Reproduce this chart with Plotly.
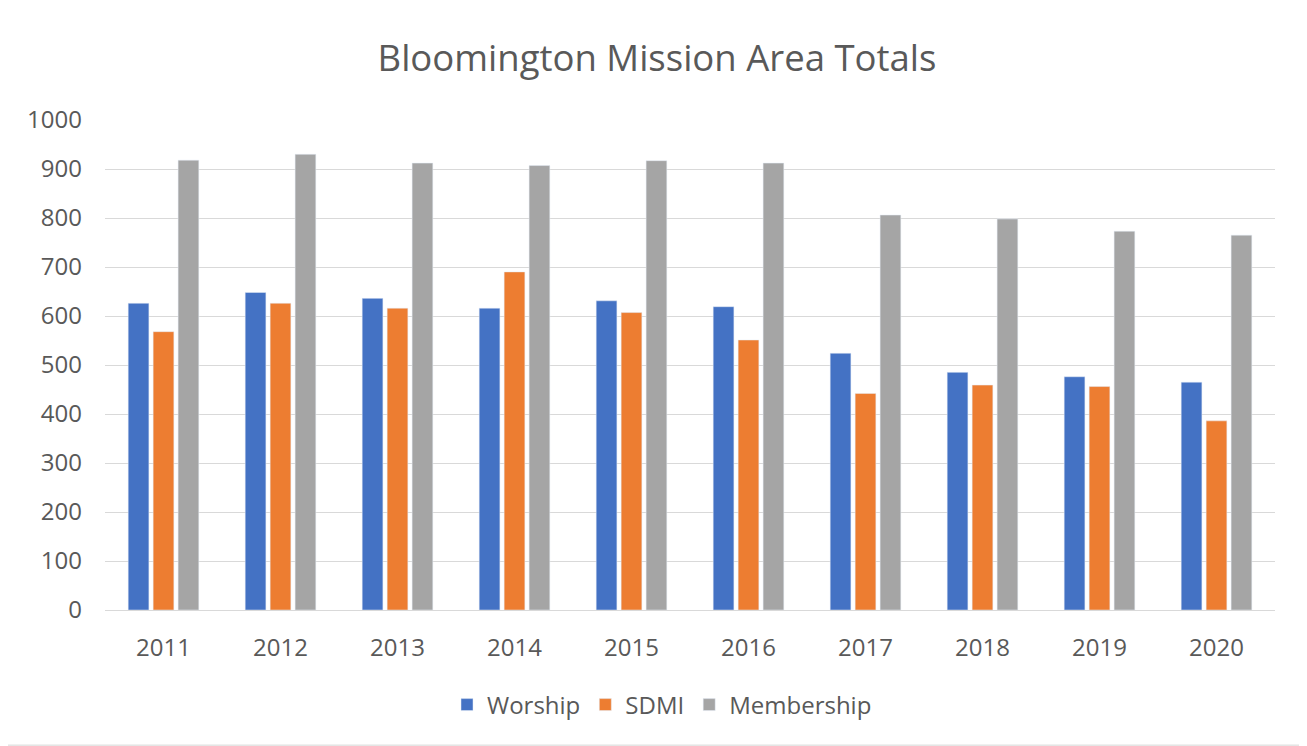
import plotly.graph_objects as go

years = ["2011", "2012", "2013", "2014", "2015", "2016", "2017", "2018", "2019", "2020"]
worship = [626, 648, 636, 616, 631, 619, 524, 485, 476, 465]
sdmi = [568, 626, 616, 690, 607, 551, 442, 459, 456, 386]
membership = [918, 930, 912, 907, 917, 912, 806, 798, 773, 765]
y_ticks = [0, 100, 200, 300, 400, 500, 600, 700, 800, 900, 1000]

# page body has an 8px margin; figure coordinates are window coords minus 8
OFF = 8
W, H = 1307 - OFF, 746 - OFF
ml, mr, mt, mb = 105 - OFF, 1307 - 1275, 120 - OFF, 746 - 610
pw, ph = W - ml - mr, H - mt - mb

def px_to_paper_x(px):
    return (px - OFF - ml) / pw

def px_to_paper_y(py):
    return (H - mb - (py - OFF)) / ph

fig = go.Figure()
fig.add_trace(go.Bar(name="Worship", x=years, y=worship, marker_color="#4472C4"))
fig.add_trace(go.Bar(name="SDMI", x=years, y=sdmi, marker_color="#ED7D31"))
fig.add_trace(go.Bar(name="Membership", x=years, y=membership, marker_color="#A5A5A5"))

fig.update_layout(
    width=W, height=H,
    margin=dict(l=ml, r=mr, t=mt, b=mb),
    paper_bgcolor="#e9ecea",
    plot_bgcolor="rgba(0,0,0,0)",
    barmode="group",
    bargap=0.36,
    bargroupgap=0.17,
    font=dict(family="Open Sans, Noto Sans, sans-serif", color="#595959", size=20),
    title=dict(text="Bloomington Mission Area Totals", xref="container",
               x=(657 - OFF) / W, xanchor="center",
               y=1 - (58 - OFF) / H, yanchor="middle",
               font=dict(size=36.5, color="#595959")),
    legend=dict(orientation="h", x=px_to_paper_x(662), xanchor="center", y=px_to_paper_y(705),
                yanchor="middle", bgcolor="rgba(0,0,0,0)",
                font=dict(size=24, color="#595959"), itemwidth=30, traceorder="normal"),
    shapes=[dict(type="rect", xref="paper", yref="paper",
                 x0=px_to_paper_x(0), x1=px_to_paper_x(1302),
                 y0=px_to_paper_y(745), y1=px_to_paper_y(0),
                 fillcolor="white", line=dict(color="#e0e0e0", width=1), layer="below")],
)
fig.update_yaxes(range=[0, 1000], tickvals=y_ticks, showgrid=True, gridcolor="#d9d9d9",
                 gridwidth=1, zeroline=False, ticks="", showline=False,
                 tickfont=dict(size=24, color="#595959"), ticklabelstandoff=22)
fig.update_xaxes(showline=True, linecolor="#d9d9d9", linewidth=1, ticks="",
                 tickfont=dict(size=24, color="#595959"), ticklabelstandoff=16)

fig.write_html("out.html")
